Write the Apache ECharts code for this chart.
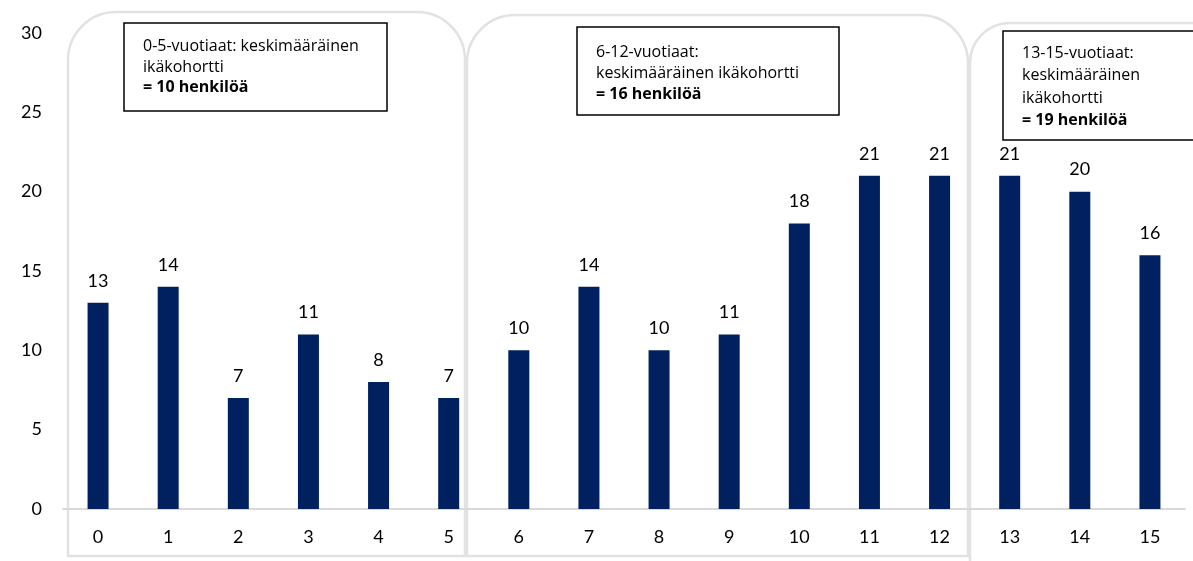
<!DOCTYPE html>
<html>
<head>
<meta charset="utf-8">
<script src="https://cdn.jsdelivr.net/npm/echarts@6/dist/echarts.min.js"></script>
<style>
  html, body { margin: 0; padding: 0; background: #fff; }
  #chart { width: 1193px; height: 561px; }
</style>
</head>
<body>
<div id="chart"></div>
<script>
const categories = ['0','1','2','3','4','5','6','7','8','9','10','11','12','13','14','15'];
const values = [13, 14, 7, 11, 8, 7, 10, 14, 10, 11, 18, 21, 21, 21, 20, 16];
const yMin = 0, yMax = 30, yStep = 5;

const note1 = ['0-5-vuotiaat: keskimääräinen', 'ikäkohortti', '= 10 henkilöä'];
const note2 = ['6-12-vuotiaat:', 'keskimääräinen ikäkohortti', '= 16 henkilöä'];
const note3 = ['13-15-vuotiaat:', 'keskimääräinen', 'ikäkohortti', '= 19 henkilöä'];

const FONT = 'Lato, "Open Sans", sans-serif';
const NOTE_FONT = '"Open Sans", Lato, sans-serif';

function noteText(lines) {
  return lines.map((l, i) => (i === lines.length - 1 ? '{b|' + l + '}' : '{n|' + l + '}')).join('\n');
}
function note(x, y, w, h, lines, lh, dy) {
  return {
    type: 'group', z: 100,
    children: [
      { type: 'rect', shape: { x: x, y: y, width: w, height: h },
        style: { fill: '#fff', stroke: '#000', lineWidth: 1.5 }, z: 100 },
      { type: 'text', x: x + 19, y: y + h / 2 + dy, z: 101,
        style: {
          text: noteText(lines), verticalAlign: 'middle', align: 'left',
          rich: {
            n: { fontFamily: NOTE_FONT, fontSize: 16, lineHeight: lh, fill: '#000' },
            b: { fontFamily: NOTE_FONT, fontSize: 16, lineHeight: lh, fontWeight: 'bold', fill: '#000' }
          }
        } }
    ]
  };
}
function frame(x, y, w, h, r) {
  return { type: 'rect', z: 0, shape: { x: x, y: y, width: w, height: h, r: [r, r, 0, 0] },
    style: { fill: 'none', stroke: '#e2e2e2', lineWidth: 2.5 } };
}

const chart = echarts.init(document.getElementById('chart'), null, { renderer: 'canvas' });
chart.setOption({
  animation: false,
  backgroundColor: '#fff',
  grid: { left: 63, right: 8, top: 33, bottom: 52, containLabel: false },
  xAxis: {
    type: 'category', data: categories,
    axisTick: { show: false },
    axisLine: { lineStyle: { color: '#d9d9d9', width: 2 } },
    axisLabel: { color: '#000', fontSize: 18, fontFamily: FONT, margin: 19 }
  },
  yAxis: {
    type: 'value', min: yMin, max: yMax, interval: yStep,
    axisLine: { show: false }, axisTick: { show: false }, splitLine: { show: false },
    axisLabel: { color: '#000', fontSize: 18, fontFamily: FONT, margin: 21 }
  },
  series: [{
    type: 'bar', data: values, barWidth: 21,
    itemStyle: { color: '#002060' },
    label: { show: true, position: 'top', distance: 13, color: '#000', fontSize: 18, fontFamily: FONT }
  }],
  graphic: [
    frame(68, 12, 397, 544, 48),
    frame(467, 15, 501, 541, 48),
    frame(970, 23, 260, 600, 40),
    note(124, 23, 263, 88, note1, 20.5, 0),
    note(577, 27, 262, 88, note2, 21, 2),
    note(1003, 31, 220, 109, note3, 22.5, 1.5)
  ]
});
</script>
</body>
</html>
